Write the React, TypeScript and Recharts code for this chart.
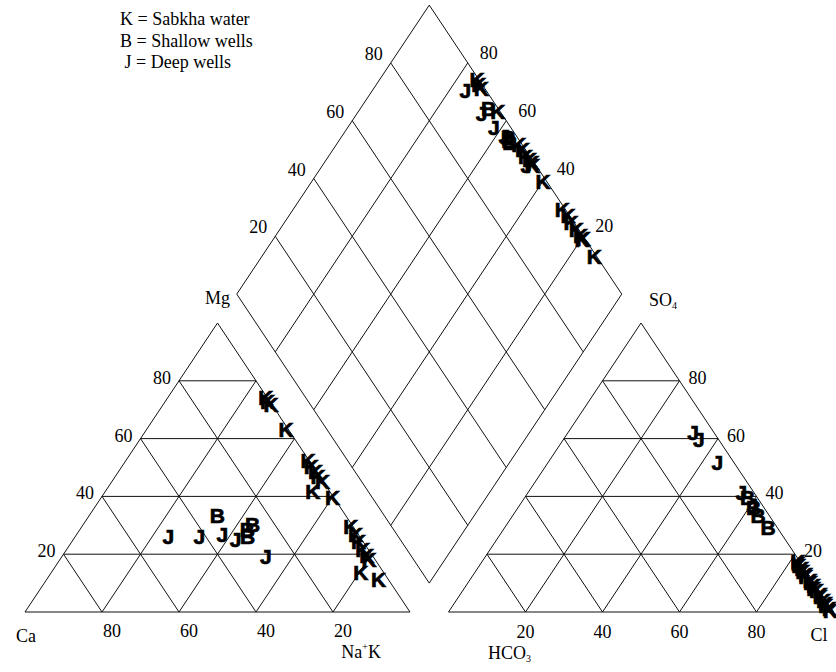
import React from 'react';
import { ScatterChart, Scatter, XAxis, YAxis, ReferenceLine } from 'recharts';

// ---------- data (percent of meq/l) ----------
// K = Sabkha water
const kCa = [0.3, 0.5, 0.2, 0.6, 0.3, 0.4, 0.2, 0.5, 0.1, 4.4, 0.3, 0.6, 0.8, 1.2, 1.5, 1.5, 1.6, 6.0, 2.6];
const kMg = [74.3, 73.0, 71.8, 63.2, 52.3, 50.4, 48.6, 46.8, 45.2, 41.7, 39.6, 29.5, 26.7, 24.3, 21.5, 19.4, 18.1, 13.5, 11.1];
const kHCO3 = [0.5, 0.8, 1.0, 0.6, 0.9, 0.7, 1.1, 0.6, 0.9, 0.5, 1.0, 0.7, 0.4, 0.8, 0.6, 0.5, 0.9, 0.4, 0.6];
const kSO4 = [17.5, 16.8, 16.0, 15.2, 14.1, 13.0, 12.2, 11.0, 10.1, 9.3, 8.2, 7.4, 6.1, 5.2, 4.0, 3.1, 2.2, 1.3, 0.5];

// B = Shallow wells
const bCa = [33.4, 25.8, 29.2, 28.0];
const bMg = [33.3, 30.2, 26.0, 28.5];
const bHCO3 = [2.5, 2.7, 2.9, 2.4];
const bSO4 = [39.6, 36.1, 33.4, 29.2];

// J = Deep wells
const jCa = [49.8, 41.7, 35.4, 32.8, 27.9];
const jMg = [26.0, 26.0, 26.7, 25.0, 19.1];
const jHCO3 = [5.4, 5.1, 4.3, 3.2, 2.6];
const jSO4 = [62.2, 59.7, 51.7, 41.5, 37.0];

const ticks = [20, 40, 60, 80];
const legendLines = ['K = Sabkha water', 'B = Shallow wells', '\u00a0J = Deep wells'];

// ---------- geometry (Piper units: triangle side = 100) ----------
const W = 836;
const HGT = 672;
const H = 86.6025;
const PX_X = 3.85;
const PX_Y = 3.337;
const X0 = 25;
const Y0 = 612;
const xDomain = [-X0 / PX_X, (W - X0) / PX_X];
const yDomain = [-(HGT - Y0) / PX_Y, Y0 / PX_Y];

const cat = (ca: number, mg: number) => ({ x: 100 - ca - mg + mg / 2, y: (mg * H) / 100 });
const an = (hco3: number, so4: number) => ({ x: 110 + (100 - hco3 - so4) + so4 / 2, y: (so4 * H) / 100 });
const dia = (a: number, b: number) => ({ x: 105 + a / 2 - b / 2, y: 0.1 * H + ((a + b) * H) / 100 });

type Seg = [{ x: number; y: number }, { x: number; y: number }];
const segs: Seg[] = [];
// cation triangle
segs.push([cat(100, 0), cat(0, 0)], [cat(0, 0), cat(0, 100)], [cat(0, 100), cat(100, 0)]);
// anion triangle
segs.push([an(100, 0), an(0, 0)], [an(0, 0), an(0, 100)], [an(0, 100), an(100, 0)]);
// diamond
segs.push([dia(0, 0), dia(100, 0)], [dia(100, 0), dia(100, 100)], [dia(100, 100), dia(0, 100)], [dia(0, 100), dia(0, 0)]);
ticks.forEach((t) => {
  segs.push([cat(100 - t, t), cat(0, t)]);
  segs.push([cat(t, 0), cat(t, 100 - t)]);
  segs.push([cat(100 - t, 0), cat(0, 100 - t)]);
  segs.push([an(100 - t, t), an(0, t)]);
  segs.push([an(t, 0), an(t, 100 - t)]);
  segs.push([an(100 - t, 0), an(0, 100 - t)]);
  segs.push([dia(t, 0), dia(t, 100)]);
  segs.push([dia(0, t), dia(100, t)]);
});

const build = (ca: number[], mg: number[], hco3: number[], so4: number[]) => {
  const pts: { x: number; y: number }[] = [];
  ca.forEach((c, i) => pts.push(cat(c, mg[i])));
  hco3.forEach((h, i) => pts.push(an(h, so4[i])));
  ca.forEach((c, i) => pts.push(dia(100 - hco3[i], c + mg[i])));
  return pts;
};
const kPts = build(kCa, kMg, kHCO3, kSO4);
const bPts = build(bCa, bMg, bHCO3, bSO4);
const jPts = build(jCa, jMg, jHCO3, jSO4);

type Lbl = { x: number; y: number; text: string; anchor: string; dx: number; dy: number; sub?: string; sup?: string; tail?: string };
const labels: Lbl[] = [];
ticks.forEach((t) => {
  const s = String(t);
  labels.push({ ...cat(100 - t, t), text: s, anchor: 'end', dx: -8, dy: -3 });
  labels.push({ ...cat(t, 0), text: s, anchor: 'middle', dx: 10, dy: 19 });
  labels.push({ ...an(100 - t, 0), text: s, anchor: 'middle', dx: 0, dy: 20 });
  labels.push({ ...an(0, t), text: s, anchor: 'start', dx: 9, dy: -3 });
  labels.push({ ...dia(t, 100), text: s, anchor: 'end', dx: -8, dy: -9 });
  labels.push({ ...dia(100, t), text: s, anchor: 'start', dx: 12, dy: -10 });
});
labels.push({ ...cat(100, 0), text: 'Ca', anchor: 'middle', dx: 1, dy: 24 });
labels.push({ ...cat(0, 0), text: 'Na', sup: '+', tail: 'K', anchor: 'end', dx: -29, dy: 40 });
labels.push({ ...cat(0, 100), text: 'Mg', anchor: 'middle', dx: 0, dy: -25 });
labels.push({ ...an(0, 100), text: 'SO', sub: '4', anchor: 'start', dx: 8, dy: -23 });
labels.push({ ...an(100, 0), text: 'HCO', sub: '3', anchor: 'middle', dx: 61, dy: 41 });
labels.push({ ...an(0, 0), text: 'Cl', anchor: 'end', dx: -6, dy: 23 });

const SERIF = '"Liberation Serif", "Times New Roman", serif';

const LabelShape = (props: any) => {
  const { cx, cy, payload } = props;
  const p = payload as Lbl;
  return (
    <text
      x={cx + p.dx}
      y={cy + p.dy}
      textAnchor={p.anchor as any}
      dominantBaseline="central"
      fontFamily={SERIF}
      fontSize={18}
      fill="#000"
    >
      {p.text}
      {p.sub ? (
        <tspan fontSize={10} dy={5}>
          {p.sub}
        </tspan>
      ) : null}
      {p.sup ? (
        <tspan fontSize={10} dy={-6}>
          {p.sup}
        </tspan>
      ) : null}
      {p.tail ? <tspan dy={6}>{p.tail}</tspan> : null}
    </text>
  );
};

const letterShape = (ch: string) => (props: any) => {
  const { cx, cy } = props;
  return (
    <text
      x={cx}
      y={cy}
      textAnchor="middle"
      dominantBaseline="central"
      fontFamily='"Liberation Sans Narrow", "Liberation Sans", Arial, sans-serif'
      fontWeight={700}
      fontSize={21}
      fill="#000"
      stroke="#000"
      strokeWidth={0.7}
    >
      {ch}
    </text>
  );
};

export default function App() {
  return (
    <div style={{ position: 'absolute', left: 0, top: 0, width: W, height: HGT, background: '#fff' }}>
      <ScatterChart width={W} height={HGT} margin={{ top: 0, right: 0, bottom: 0, left: 0 }}>
        <XAxis type="number" dataKey="x" domain={xDomain} hide allowDataOverflow />
        <YAxis type="number" dataKey="y" domain={yDomain} hide allowDataOverflow />
        {segs.map((s, i) => (
          <ReferenceLine key={i} segment={s} stroke="#111" strokeWidth={1} ifOverflow="visible" />
        ))}
        <Scatter data={labels} shape={LabelShape} isAnimationActive={false} />
        <Scatter data={kPts} shape={letterShape('K')} isAnimationActive={false} />
        <Scatter data={bPts} shape={letterShape('B')} isAnimationActive={false} />
        <Scatter data={jPts} shape={letterShape('J')} isAnimationActive={false} />
      </ScatterChart>
      <div
        style={{
          position: 'absolute',
          left: 120,
          top: 9,
          fontFamily: SERIF,
          fontSize: 18,
          lineHeight: '21.5px',
          color: '#000',
          whiteSpace: 'pre',
        }}
      >
        {legendLines.map((l) => (
          <div key={l}>{l}</div>
        ))}
      </div>
    </div>
  );
}
